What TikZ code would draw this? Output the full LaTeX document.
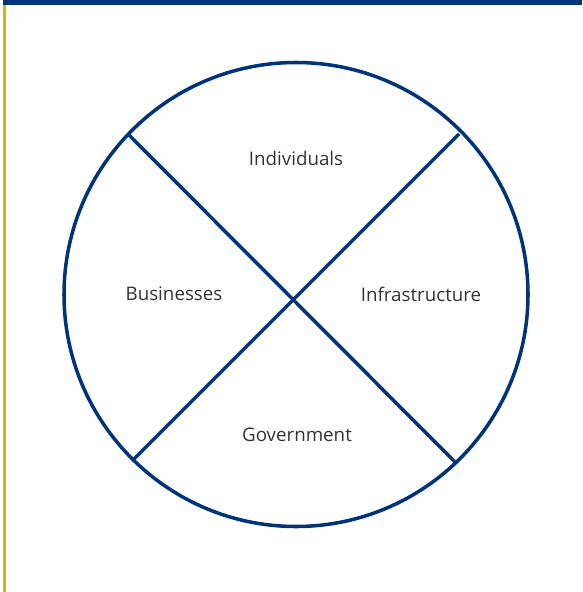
\documentclass[tikz,border=0pt]{standalone}
\usepackage{fontspec}
\setsansfont{Open Sans}
\definecolor{navy}{HTML}{003478}
\definecolor{gold}{HTML}{E8B000}
\tikzset{
  part/.style={font=\sffamily\fontsize{16}{18}\selectfont, text=black!80},
  rim/.style={draw=navy, line width=3pt}
}

\begin{document}
\begin{tikzpicture}[x=0.3mm, y=-0.3mm]
      \useasboundingbox (0,0) rectangle (582,592);
      % frame
      \fill[navy] (3,0) rectangle (582,5);
      \fill[gold] (3,5) rectangle (5.5,592);

      \draw[rim] (296,294.5) circle (232);
      \coordinate (nw) at (129,135);
      \coordinate (ne) at (459,134);
      \coordinate (sw) at (134,459);
      \coordinate (se) at (455,462);
      \draw[rim] (nw) -- (se);
      \draw[rim] (ne) -- (sw);

      \node[part] (ind) at (296,158) {Individuals};
      \node[part] (bus) at (174,294) {Businesses};
      \node[part] (inf) at (421,294) {Infrastructure};
      \node[part] (gov) at (297,435) {Government};
    \end{tikzpicture}
\end{document}
